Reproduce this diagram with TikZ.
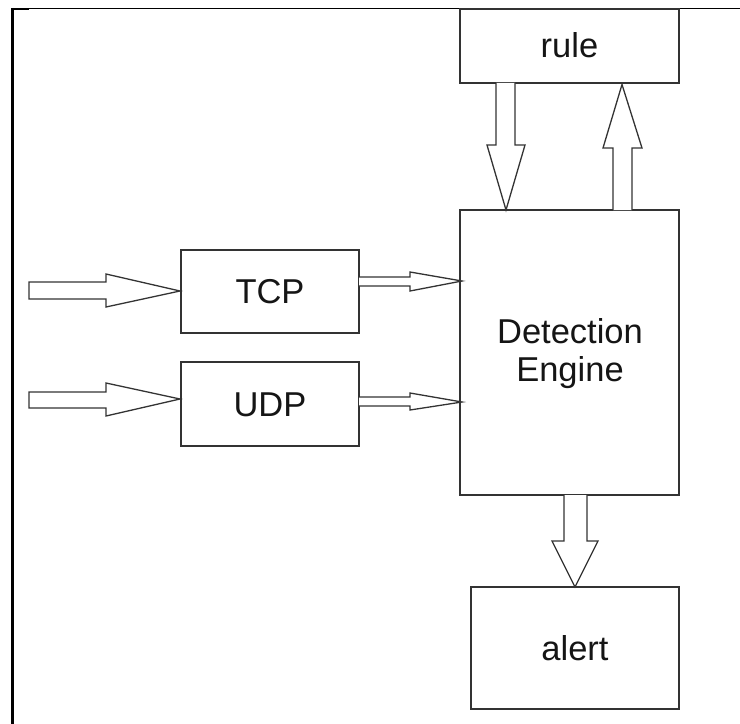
\documentclass[tikz,border=0pt]{standalone}
\usepackage{fontspec}
\setmainfont{Liberation Sans}
\definecolor{linec}{HTML}{333333}
\definecolor{textc}{HTML}{151515}
\tikzset{
  box/.style={draw=linec, line width=1.4bp, fill=white, inner sep=0pt, text=textc,
    font=\fontsize{34.5bp}{38bp}\selectfont, text height=24bp, text depth=0pt},
  lbl/.style={inner sep=0pt, text=textc, font=\fontsize{34.5bp}{38bp}\selectfont, anchor=base},
  blockarrow/.style={draw=linec, line width=1.3bp, fill=white, line join=miter},
  frame/.style={draw=black, line cap=butt}
}
\begin{document}
\begin{tikzpicture}[x=1bp,y=-1bp]
\useasboundingbox (0,0) rectangle (740,724);
% frame
\draw[frame, line width=1.8bp] (11,8.5) -- (740,8.5);
\draw[frame, line width=2.6bp] (12.3,8) -- (12.3,724);
\draw[frame, line width=2.6bp] (12,9) -- (28.5,9);
% boxes
\node[box, minimum width=219bp, minimum height=74bp] (rule) at (569.5,46) {rule};
\node[box, minimum width=219bp, minimum height=285bp] (engine) at (569.5,352.5) {};
\node[lbl] (det) at (570,343) {Detection};
\node[lbl] (eng) at (570,381) {Engine};
\node[box, minimum width=208bp, minimum height=122bp] (alert) at (575,648) {alert};
\node[box, minimum width=178bp, minimum height=83bp] (tcp) at (270,291.5) {TCP};
\node[box, minimum width=178bp, minimum height=84bp] (udp) at (270,404) {UDP};
% rule -> engine
\draw[blockarrow] (496,83) -- (496,145) -- (487,145) -- (506,210) -- (525,145) -- (515,145) -- (515,83);
% engine -> rule
\draw[blockarrow] (613,210) -- (613,148) -- (603,148) -- (622,84.5) -- (642,148) -- (632,148) -- (632,210);
% engine -> alert
\draw[blockarrow] (564,495) -- (564,541) -- (552,541) -- (575,587) -- (598,541) -- (587,541) -- (587,495);
% input -> tcp
\draw[blockarrow] (180,291) -- (106,307) -- (106,299) -- (29,299) -- (29,282) -- (106,282) -- (106,274) -- cycle;
% input -> udp
\draw[blockarrow] (180,399) -- (106,416) -- (106,408) -- (29,408) -- (29,392) -- (106,392) -- (106,383) -- cycle;
% tcp -> engine
\draw[blockarrow] (359,277) -- (410,277) -- (410,272) -- (462,281) -- (410,291) -- (410,286) -- (359,286);
% udp -> engine
\draw[blockarrow] (359,397) -- (410,397) -- (410,393) -- (462,402) -- (410,410) -- (410,406) -- (359,406);
\end{tikzpicture}
\end{document}
